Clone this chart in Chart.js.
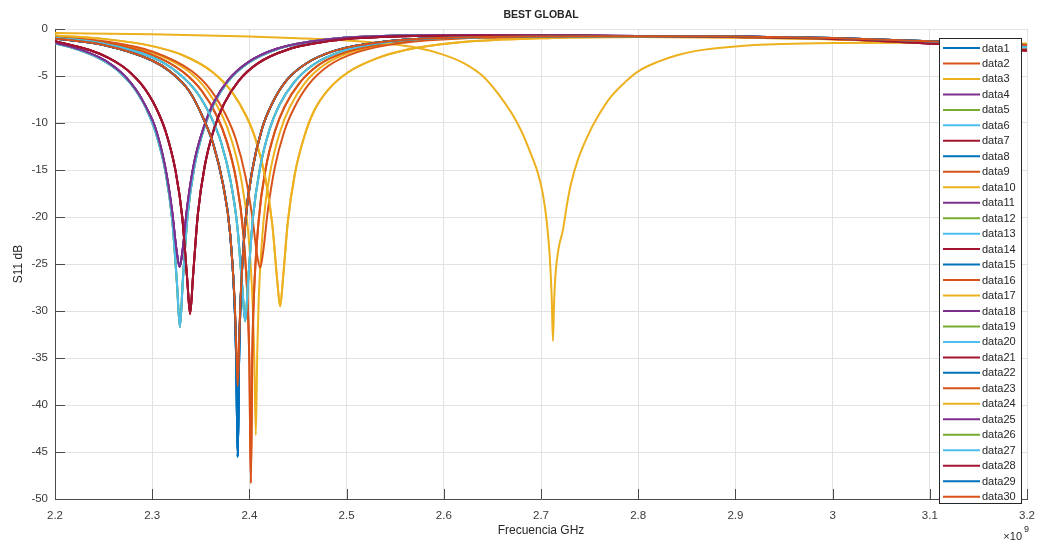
<!DOCTYPE html>
<html lang="es">
<head>
<meta charset="utf-8">
<title>BEST GLOBAL</title>
<script src="https://cdn.jsdelivr.net/npm/chart.js@4.4.1/dist/chart.umd.min.js"></script>
<style>
  html, body { margin: 0; padding: 0; background: #fff; }
  #wrap { position: relative; width: 1045px; height: 546px; }
</style>
</head>
<body>
<div id="wrap"><canvas id="s11"></canvas></div>
<script>
// S11 (dB) of the 30 optimisation runs, swept 2.2 - 3.2 GHz.
// Every resonance keeps its own frequency grid (GHz), denser around the dip.

// light blue, dip 2.3285 GHz
const f2329 = [2.2, 2.225, 2.245, 2.2585, 2.2685, 2.2785, 2.2865, 2.2935, 2.3035, 2.3135, 2.3205, 2.3255, 2.3285, 2.3315,
               2.3365, 2.3435, 2.3535, 2.3635, 2.3785, 2.3985, 2.4285, 2.4785, 2.5285, 2.6285, 2.7285, 2.8, 2.9, 3.0, 3.1, 3.2];
const s2329 = [-1.5, -2.24, -3.09, -3.94, -4.78, -5.9, -7.07, -8.39, -10.99, -15.1, -20.2, -27.1, -31.7, -26.8,
               -19.76, -14.6, -10.5, -7.94, -5.51, -3.63, -2.15, -1.14, -0.79, -0.65, -0.72, -0.76, -0.83, -1.0, -1.4, -2.0];

// purple, dip 2.3282 GHz
const f2328 = [2.2, 2.225, 2.245, 2.2582, 2.2682, 2.2782, 2.2862, 2.2932, 2.3032, 2.3132, 2.3202, 2.3252, 2.3282, 2.3312,
               2.3362, 2.3432, 2.3532, 2.3632, 2.3782, 2.3982, 2.4282, 2.4782, 2.5282, 2.6282, 2.7282, 2.8, 2.9, 3.0, 3.1, 3.2];
const s2328 = [-1.45, -2.17, -3.0, -3.81, -4.64, -5.75, -6.91, -8.21, -10.5, -14.6, -19.16, -23.7, -25.3, -23.6,
               -18.8, -14.2, -10.4, -7.85, -5.44, -3.57, -2.1, -1.12, -0.78, -0.64, -0.70, -0.74, -0.8, -0.98, -1.35, -1.9];

// dark red, dip 2.339 GHz
const f2339 = [2.2, 2.2355, 2.2555, 2.269, 2.279, 2.289, 2.297, 2.304, 2.314, 2.324, 2.331, 2.336, 2.339, 2.342,
               2.347, 2.354, 2.364, 2.374, 2.389, 2.409, 2.439, 2.489, 2.539, 2.639, 2.739, 2.8, 2.9, 3.0, 3.1, 3.2];
const s2339 = [-1.3, -2.24, -3.09, -3.94, -4.78, -5.9, -7.07, -8.39, -10.95, -15.07, -20.1, -26.6, -30.3, -26.3,
               -19.66, -14.6, -10.5, -7.94, -5.51, -3.63, -2.2, -1.19, -0.84, -0.7, -0.72, -0.78, -0.86, -1.06, -1.55, -2.3];

// 2.388 GHz: orange run and the deeper blue run on the same grid
const f2388 = [2.2, 2.25, 2.3, 2.318, 2.338, 2.353, 2.363, 2.373, 2.38, 2.385, 2.3865, 2.388, 2.3895, 2.391, 2.396,
               2.403, 2.413, 2.423, 2.438, 2.458, 2.488, 2.538, 2.588, 2.688, 2.8, 2.9, 3.0, 3.1, 3.2];
const s2388 = [-1.0, -1.7, -3.35, -4.5, -6.6, -9.6, -12.3, -16.6, -21.6, -29.4, -33.9, -38.0, -33.1, -28.4, -20.4,
               -15.0, -10.6, -8.0, -5.5, -3.7, -2.3, -1.35, -0.98, -0.8, -0.76, -0.8, -0.97, -1.3, -1.7];
const s2388deep = [-1.0, -1.7, -3.35, -4.5, -6.6, -9.6, -12.3, -16.6, -21.6, -29.9, -35.6, -45.5, -34.5, -28.8, -20.4,
                   -15.0, -10.6, -8.0, -5.5, -3.7, -2.3, -1.35, -0.98, -0.8, -0.76, -0.8, -0.97, -1.3, -1.7];

// light blue, dip 2.3957 GHz
const f2396 = [2.2, 2.25, 2.3, 2.3257, 2.3457, 2.3607, 2.3707, 2.3807, 2.3877, 2.3927, 2.3957, 2.3987, 2.4037, 2.4107,
               2.4207, 2.4307, 2.4457, 2.4657, 2.4957, 2.5457, 2.5957, 2.6957, 2.8, 2.9, 3.0, 3.1, 3.2];
const s2396 = [-0.92, -1.55, -3.0, -4.6, -6.7, -9.4, -12.0, -16.2, -21.1, -27.5, -31.1, -26.8, -20.0, -14.9,
               -10.7, -8.1, -5.7, -3.8, -2.35, -1.35, -0.98, -0.8, -0.77, -0.82, -1.0, -1.4, -1.95];

// orange, dip 2.4015 GHz (deepest)
const f2402 = [2.2, 2.25, 2.3, 2.3315, 2.3515, 2.3665, 2.3765, 2.3865, 2.3935, 2.3985, 2.4, 2.4015, 2.403, 2.4045, 2.4095,
               2.4165, 2.4265, 2.4365, 2.4515, 2.4715, 2.5015, 2.5515, 2.6015, 2.7015, 2.8, 2.9, 3.0, 3.1, 3.2];
const s2402 = [-0.87, -1.45, -2.75, -4.55, -6.65, -9.25, -11.9, -16.1, -21.5, -29.9, -35.8, -48.3, -34.7, -28.8, -20.4,
               -15.0, -10.8, -8.2, -5.75, -3.8, -2.38, -1.38, -0.99, -0.82, -0.78, -0.83, -1.02, -1.38, -1.85];

// yellow, dip 2.4066 GHz
const f2407 = [2.2, 2.25, 2.3, 2.3366, 2.3566, 2.3716, 2.3816, 2.3916, 2.3986, 2.4036, 2.4051, 2.4066, 2.4081, 2.4096, 2.4146,
               2.4216, 2.4316, 2.4416, 2.4566, 2.4766, 2.5066, 2.5566, 2.6066, 2.7066, 2.8, 2.9, 3.0, 3.1, 3.2];
const s2407 = [-0.82, -1.35, -2.5, -4.45, -6.55, -9.1, -11.8, -16.0, -21.4, -29.8, -35.3, -43.2, -34.3, -28.7, -20.4,
               -15.1, -10.9, -8.3, -5.8, -3.85, -2.4, -1.4, -1.0, -0.83, -0.8, -0.86, -1.05, -1.4, -1.8];

// orange, dip 2.411 GHz
const f2411 = [2.2, 2.25, 2.3, 2.341, 2.361, 2.376, 2.386, 2.396, 2.403, 2.408, 2.411, 2.414, 2.419, 2.426,
               2.436, 2.446, 2.461, 2.481, 2.511, 2.561, 2.611, 2.711, 2.8, 2.9, 3.0, 3.1, 3.2];
const s2411 = [-0.80, -1.30, -2.39, -4.5, -6.6, -9.2, -11.7, -15.7, -20.0, -24.1, -25.4, -23.8, -19.3, -14.8,
               -10.85, -8.4, -5.9, -3.94, -2.46, -1.43, -1.04, -0.84, -0.8, -0.88, -1.08, -1.5, -2.0];

// yellow, dip 2.4316 GHz
const f2432 = [2.2, 2.25, 2.3, 2.3316, 2.3616, 2.3816, 2.3966, 2.4066, 2.4166, 2.4236, 2.4286, 2.4316, 2.4346, 2.4396,
               2.4466, 2.4566, 2.4666, 2.4816, 2.5016, 2.5316, 2.5616, 2.6116, 2.7116, 2.8, 2.9, 3.0, 3.1, 3.2];
const s2432 = [-0.7, -1.05, -1.82, -2.79, -4.54, -6.64, -9.23, -11.8, -15.95, -20.85, -26.7, -29.5, -26.5, -20.45,
               -15.5, -11.4, -8.7, -6.4, -4.6, -3.1, -2.2, -1.45, -0.95, -0.85, -0.9, -1.1, -1.45, -1.9];

// yellow, dip 2.7123 GHz
const f2712 = [2.2, 2.3, 2.4, 2.45, 2.5, 2.54, 2.57, 2.6, 2.62, 2.64, 2.656, 2.67, 2.68, 2.69, 2.697, 2.702, 2.706,
               2.709, 2.711, 2.7123, 2.7135, 2.715, 2.718, 2.7225, 2.727, 2.731, 2.738, 2.747, 2.758, 2.772, 2.787,
               2.8, 2.82, 2.84, 2.861, 2.9, 2.95, 3.0, 3.1, 3.2];
const s2712 = [-0.43, -0.56, -0.8, -0.98, -1.22, -1.55, -1.95, -2.75, -3.6, -5.0, -6.9, -9.0, -10.9, -13.4, -15.4, -17.6, -20.6,
               -24.2, -28.5, -33.2, -29.0, -26.0, -23.4, -21.4, -18.5, -16.4, -13.9, -11.6, -9.4, -7.2, -5.6,
               -4.5, -3.5, -2.8, -2.3, -1.85, -1.6, -1.5, -1.45, -1.55];

// axis ticks
const X_TICKS = [2.2, 2.3, 2.4, 2.5, 2.6, 2.7, 2.8, 2.9, 3.0, 3.1, 3.2];
const Y_TICKS = [-50, -45, -40, -35, -30, -25, -20, -15, -10, -5, 0];

// which sweep each legend entry (data1..data30) plotted, in plot order
const SERIES_CURVE = ['A', 'K', 'C', 'I', 'H', 'H', 'J', 'A', 'B', 'F',
                      'I', 'D', 'D', 'J', 'A', 'B', 'G', 'I', 'H', 'H',
                      'J', 'A', 'E', 'F', 'I', 'D', 'D', 'J', 'A', 'K'];

const CURVES = {
    A: [f2388, s2388deep], K: [f2388, s2388], B: [f2402, s2402], C: [f2407, s2407],
    D: [f2396, s2396], E: [f2411, s2411], F: [f2432, s2432], G: [f2712, s2712],
    H: [f2329, s2329], I: [f2328, s2328], J: [f2339, s2339]
};

// MATLAB default colour order
const LINE_COLORS = ['#0072BD', '#D95319', '#EDB120', '#7E2F8E', '#77AC30', '#4DBEEE', '#A2142F'];

const FONT = '"Liberation Sans", Arial, Helvetica, sans-serif';
const INK = '#262626';
const AXIS_COLOR = '#4a4a4a';
const GRID_COLOR = '#e2e2e2';
const TICK_LEN = 10;
const LEGEND_ROW = 15.47;

const datasets = SERIES_CURVE.map((key, i) => {
    const [freq, db] = CURVES[key];
    return {
        label: 'data' + (i + 1),
        data: freq.map((f, j) => ({ x: f, y: db[j] })),
        borderColor: LINE_COLORS[i % LINE_COLORS.length],
        backgroundColor: LINE_COLORS[i % LINE_COLORS.length],
        borderWidth: 2,
        pointRadius: 0,
        fill: false,
        cubicInterpolationMode: 'monotone',
        // later runs are painted over earlier ones
        order: SERIES_CURVE.length - i
    };
});

// inward ticks, title, axis labels, exponent and the boxed legend inside the axes
const matlabAxes = {
    id: 'matlabAxes',
    beforeDatasetsDraw(chart) {
        const { ctx, chartArea: a, scales: { x, y } } = chart;
        ctx.save();
        ctx.strokeStyle = AXIS_COLOR;
        ctx.lineWidth = 1;
        ctx.beginPath();
        x.ticks.forEach(t => {
            const px = Math.round(x.getPixelForValue(t.value)) + 0.5;
            ctx.moveTo(px, a.bottom);
            ctx.lineTo(px, a.bottom - TICK_LEN);
        });
        y.ticks.forEach(t => {
            const py = Math.round(y.getPixelForValue(t.value)) + 0.5;
            ctx.moveTo(a.left, py);
            ctx.lineTo(a.left + TICK_LEN, py);
        });
        ctx.stroke();
        ctx.restore();
    },
    afterDraw(chart) {
        const { ctx, chartArea: a } = chart;
        const cx = (a.left + a.right) / 2;
        ctx.save();
        ctx.fillStyle = INK;
        ctx.textAlign = 'center';
        ctx.textBaseline = 'middle';
        ctx.font = `bold 10.5px ${FONT}`;
        ctx.fillText('BEST GLOBAL', cx, 15);
        ctx.font = `12px ${FONT}`;
        ctx.fillText('Frecuencia GHz', cx, 531);
        ctx.save();
        ctx.translate(19, (a.top + a.bottom) / 2);
        ctx.rotate(-Math.PI / 2);
        ctx.fillText('S11 dB', 0, 0);
        ctx.restore();

        ctx.textAlign = 'right';
        ctx.font = `11px ${FONT}`;
        ctx.fillText('\u00d710', 1022, 537);
        ctx.textAlign = 'left';
        ctx.font = `9px ${FONT}`;
        ctx.fillText('9', 1024, 530);

        // legend box, one column
        const lx = 939, ly = 38, lw = 82, lh = 465;
        ctx.fillStyle = '#fff';
        ctx.fillRect(lx, ly, lw, lh);
        ctx.strokeStyle = INK;
        ctx.lineWidth = 1;
        ctx.strokeRect(lx + 0.5, ly + 0.5, lw, lh);
        ctx.font = `11px ${FONT}`;
        chart.data.datasets.forEach((ds, i) => {
            const yy = ly + 10 + i * LEGEND_ROW;
            ctx.strokeStyle = ds.borderColor;
            ctx.lineWidth = 2;
            ctx.beginPath();
            ctx.moveTo(lx + 4, yy);
            ctx.lineTo(lx + 41, yy);
            ctx.stroke();
            ctx.fillStyle = INK;
            ctx.fillText(ds.label, lx + 43, yy + 0.5);
        });
        ctx.restore();
    }
};

new Chart(document.getElementById('s11'), {
    type: 'line',
    data: { datasets: datasets },
    options: {
        responsive: true,
        maintainAspectRatio: false,
        animation: false,
        devicePixelRatio: 1,
        layout: { padding: { top: 29, right: 14, left: 0, bottom: 0 } },
        plugins: {
            legend: { display: false },
            title: { display: false },
            tooltip: { enabled: false }
        },
        scales: {
            x: {
                type: 'linear',
                min: 2.2,
                max: 3.2,
                afterBuildTicks: s => { s.ticks = X_TICKS.map(v => ({ value: v })); },
                afterFit: s => { s.height = 47; },
                ticks: {
                    autoSkip: false,
                    maxRotation: 0,
                    padding: 10,
                    color: '#3a3a3a',
                    font: { family: FONT, size: 11.5 },
                    callback: v => String(Math.round(v * 10) / 10)
                },
                grid: { color: GRID_COLOR, drawTicks: false },
                border: { display: true, color: AXIS_COLOR, width: 1 }
            },
            y: {
                type: 'linear',
                min: -50,
                max: 0,
                afterBuildTicks: s => { s.ticks = Y_TICKS.map(v => ({ value: v })); },
                afterFit: s => { s.width = 55; },
                ticks: {
                    autoSkip: false,
                    padding: 7,
                    color: '#3a3a3a',
                    font: { family: FONT, size: 11.5 },
                    callback: v => String(v)
                },
                grid: { color: GRID_COLOR, drawTicks: false },
                border: { display: true, color: AXIS_COLOR, width: 1 }
            }
        }
    },
    plugins: [matlabAxes]
});
</script>
</body>
</html>
